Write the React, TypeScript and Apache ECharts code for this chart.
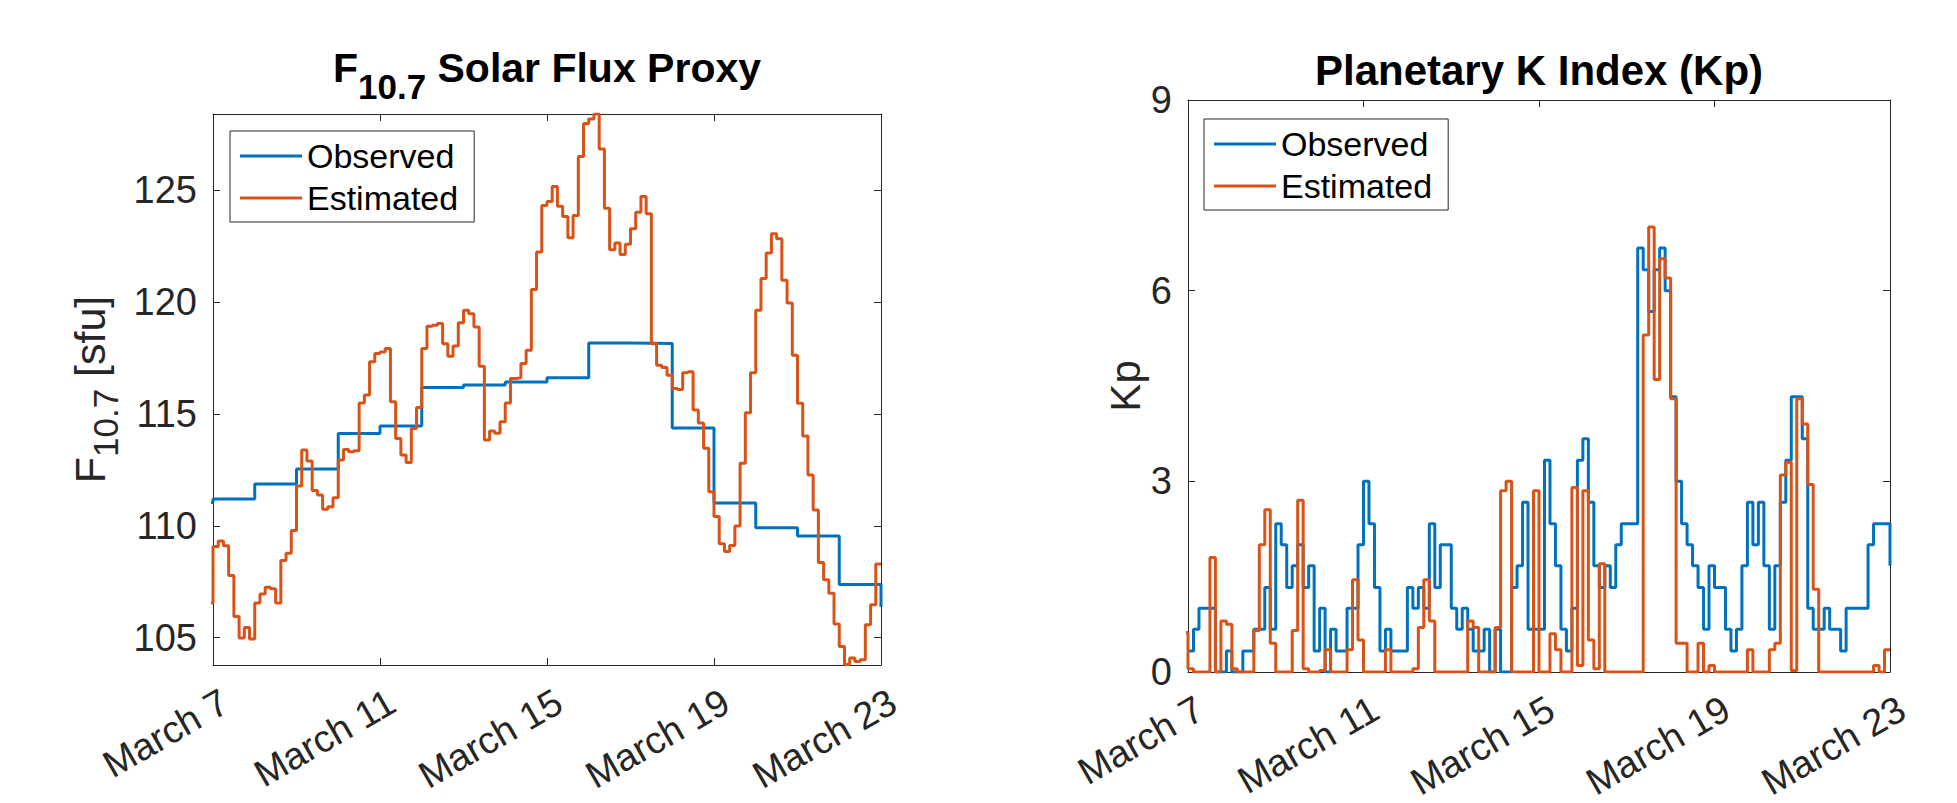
import React, { useEffect, useRef } from "react";
import * as echarts from "echarts";

// ---------------- data ----------------
const xTickLabels = ["March 7", "March 11", "March 15", "March 19", "March 23"];
const stepsPerDay = 8; // 3-hourly samples

// F10.7 observed, one value per day (March 7 .. March 22) + value at March 23
const f107ObservedPrev = 111.05;
const f107Observed = [
  111.2, 111.87, 112.55, 114.13, 114.47, 116.19, 116.3, 116.44,
  116.62, 118.18, 118.16, 114.38, 111.02, 109.92, 109.55, 107.38,
];
const f107ObservedEnd = 106.37;

// F10.7 estimated, 3-hourly
const f107EstimatedPrev = 106.55;
const f107Estimated = [
  109.08, 109.33, 109.11, 107.78, 105.95, 104.99, 105.46, 104.94,
  106.55, 106.95, 107.26, 107.19, 106.55, 108.45, 108.78, 109.79,
  111.79, 113.39, 112.9, 111.58, 111.38, 110.74, 110.86, 111.26,
  112.95, 113.42, 113.32, 113.36, 115.5, 115.85, 117.34, 117.71,
  117.78, 117.93, 115.55, 113.91, 113.17, 112.83, 114.36, 115.3,
  117.93, 118.93, 118.97, 119.05, 118.15, 117.59, 118.04, 119.08,
  119.64, 119.49, 118.9, 117.14, 113.84, 114.24, 114.14, 114.66,
  115.5, 116.59, 116.62, 117.26, 117.86, 120.57, 122.25, 124.33,
  124.51, 125.18, 124.29, 123.84, 122.89, 123.88, 126.52, 128.0,
  128.2, 128.42, 126.86, 124.21, 122.35, 122.65, 122.14, 122.59,
  123.29, 124.03, 124.73, 123.96, 118.15, 117.19, 117.08, 116.74,
  116.15, 116.1, 116.85, 116.89, 115.18, 114.6, 113.47, 111.53,
  110.42, 109.2, 108.85, 109.12, 110.0, 112.8, 115.06, 116.85,
  119.64, 121.06, 122.2, 123.07, 122.84, 120.98, 119.97, 117.63,
  115.48, 114.02, 112.28, 110.71, 108.36, 107.59, 106.99, 105.61,
  104.61, 103.8, 104.09, 103.94, 104.02, 105.58, 106.47, 108.3,
];
const f107EstimatedEnd = 108.3;

// Kp observed, 3-hourly
const kpObserved = [
  0.33, 0.67, 1, 1, 1, 0, 0, 0.33,
  0, 0, 0.33, 0.33, 0.67, 0.67, 1.33, 0.67,
  2.33, 2, 1.33, 1.67, 2, 1.33, 1.67, 0.33,
  1, 0, 0.67, 0.33, 0.33, 1, 1, 2,
  3, 2.33, 1.33, 0.33, 0.67, 0.33, 0.33, 0.33,
  1.33, 1, 1.33, 1, 2.33, 1.33, 2, 2,
  1, 0.67, 1, 0.67, 0.33, 0.33, 0.67, 0,
  0.67, 0, 0, 1.33, 1.67, 2.67, 0.67, 0.67,
  0.67, 3.33, 2.33, 1.67, 0.67, 0.33, 1, 3.33,
  3.67, 2.67, 1.67, 1.33, 1.67, 1.33, 2, 2.33,
  2.33, 2.33, 6.67, 6.33, 5.67, 6.33, 6.67, 6,
  4.33, 3, 2.33, 2, 1.67, 1.33, 0.67, 1.67,
  1.33, 1.33, 0.67, 0.33, 0.67, 1.67, 2.67, 2,
  2.67, 1.67, 0.67, 1.67, 2.67, 3.33, 4.33, 4.33,
  3.67, 1, 0.67, 0.67, 1, 0.67, 0.67, 0.33,
  1, 1, 1, 1, 2, 2.33, 2.33, 2.33,
];
const kpObservedEnd = 1.67;

// Kp estimated, 3-hourly
const kpEstimatedPrev = 0.62;
const kpEstimated = [
  0.05, 0, 0, 0, 1.8, 0, 0.8, 0.75,
  0.05, 0, 0, 0, 0.65, 2.0, 2.55, 0.45,
  0, 0, 0, 0.65, 2.7, 0.05, 0, 0,
  0.02, 0.35, 0, 0, 0, 0.35, 1.45, 0.5,
  0, 0, 0, 0, 0.35, 0, 0, 0,
  0, 0.05, 0.7, 1.45, 0.8, 0, 0, 0,
  0, 0, 0, 0.8, 0.7, 0, 0, 0,
  0.7, 2.85, 3.0, 0, 0, 0, 0, 2.85,
  0, 0, 0.6, 0.35, 0, 0, 2.9, 0.1,
  2.85, 0.5, 0.05, 1.7, 0, 0, 0, 0,
  0, 0, 0, 5.3, 7.0, 4.6, 6.5, 6.2,
  4.3, 0.45, 0.45, 0, 0, 0.45, 0, 0.1,
  0, 0, 0, 0, 0, 0, 0.35, 0,
  0, 0, 0.35, 0.45, 3.1, 3.3, 0.02, 4.3,
  3.9, 2.95, 1.3, 0, 0, 0, 0, 0,
  0, 0, 0, 0, 0, 0.1, 0, 0.35,
];
const kpEstimatedEnd = 0.35;

// ---------------- styling ----------------
const FONT = "'Liberation Sans', Arial, Helvetica, sans-serif";
const AXIS = "#262626";
const BLUE = "#0072BD";
const ORANGE = "#D95319";
const DAYS = 16;
const TICK_FONT = 38;

function stepSeries(prev: number | null, vals: number[], end: number, perDay: number) {
  const out: number[][] = [];
  if (prev !== null) out.push([-1 / perDay, prev]);
  vals.forEach((v, i) => out.push([i / perDay, v]));
  out.push([DAYS, end]);
  return out;
}

function xAxis(gridIndex: number, position: "top" | "bottom") {
  return {
    type: "value",
    gridIndex,
    position,
    min: 0,
    max: DAYS,
    interval: 4,
    axisLine: { show: true, onZero: false, lineStyle: { color: AXIS, width: 1 } },
    axisTick: { show: true, inside: true, length: 7, lineStyle: { color: AXIS, width: 1 } },
    splitLine: { show: false },
    axisLabel: {
      show: position === "bottom",
      rotate: 30,
      margin: 19,
      align: "right",
      verticalAlign: "top",
      fontSize: TICK_FONT,
      fontFamily: FONT,
      color: AXIS,
      formatter: (v: number) => "{t|" + (xTickLabels[Math.round(v / 4)] ?? "") + "}",
      rich: {
        t: { fontSize: TICK_FONT, fontFamily: FONT, color: AXIS, padding: [0, -3, 0, 0] },
      },
    },
  };
}

function yAxis(gridIndex: number, position: "left" | "right", hideEnds: boolean, extra: any) {
  return {
    type: "value",
    gridIndex,
    position,
    axisLine: { show: true, onZero: false, lineStyle: { color: AXIS, width: 1 } },
    axisTick: { show: true, inside: true, length: 7, lineStyle: { color: AXIS, width: 1 } },
    splitLine: { show: false },
    axisLabel: {
      show: position === "left",
      margin: 16,
      fontSize: TICK_FONT,
      fontFamily: FONT,
      color: AXIS,
      showMinLabel: !hideEnds,
      showMaxLabel: !hideEnds,
    },
    ...extra,
  };
}

const legendBase = {
  orient: "vertical",
  icon: "rect",
  itemWidth: 62,
  itemHeight: 3,
  itemGap: 4,
  padding: [6, 16, 5, 10],
  borderColor: AXIS,
  borderWidth: 1,
  backgroundColor: "#fff",
  textStyle: { fontSize: 34, fontFamily: FONT, color: "#000", lineHeight: 38 },
  data: ["Observed", "Estimated"],
};

export default function App() {
  const ref = useRef<HTMLDivElement>(null);
  useEffect(() => {
    if (!ref.current) return;
    const chart = echarts.init(ref.current, undefined, { renderer: "svg" });
    const line = (name: string, color: string, data: number[][], xi: number, yi: number, z: number) => ({
      type: "line",
      name,
      data,
      xAxisIndex: xi,
      yAxisIndex: yi,
      step: "end",
      symbol: "none",
      showSymbol: false,
      clip: true,
      z,
      lineStyle: { color, width: 3 },
      itemStyle: { color },
    });
    chart.setOption({
      animation: false,
      backgroundColor: "#fff",
      grid: [
        { left: 213, top: 114, width: 668, height: 551 },
        { left: 1188, top: 100, width: 702, height: 573 },
      ],
      xAxis: [xAxis(0, "bottom"), xAxis(0, "top"), xAxis(1, "bottom"), xAxis(1, "top")],
      yAxis: [
        yAxis(0, "left", true, {
          min: 103.78,
          max: 128.42,
          splitNumber: 5,
          name: "{n|F}{s|10.7}{n| [sfu]}",
          nameLocation: "middle",
          nameRotate: 90,
          nameGap: 100,
          nameTextStyle: {
            color: AXIS,
            rich: {
              n: { fontSize: 43, lineHeight: 46, fontFamily: FONT, color: AXIS },
              s: { fontSize: 35, lineHeight: 46, fontFamily: FONT, color: AXIS, padding: [30, 0, 0, 0] },
            },
          },
        }),
        yAxis(0, "right", true, { min: 103.78, max: 128.42, splitNumber: 5 }),
        yAxis(1, "left", false, {
          min: 0,
          max: 9,
          interval: 3,
          name: "Kp",
          nameLocation: "middle",
          nameRotate: 90,
          nameGap: 20,
          nameTextStyle: { fontSize: 42, fontFamily: FONT, color: AXIS },
        }),
        yAxis(1, "right", false, { min: 0, max: 9, interval: 3 }),
      ],
      legend: [
        { ...legendBase, left: 230, top: 131 },
        { ...legendBase, left: 1204, top: 119 },
      ],
      graphic: [
        {
          type: "text",
          x: 547,
          y: 68,
          style: {
            text: "{n|F}{s|10.7}{n| Solar Flux Proxy}",
            align: "center",
            verticalAlign: "middle",
            rich: {
              n: { fontSize: 41, lineHeight: 44, fontWeight: "bold", fontFamily: FONT, fill: "#000" },
              s: { fontSize: 35, lineHeight: 44, fontWeight: "bold", fontFamily: FONT, fill: "#000", padding: [36, 0, 0, 0] },
            },
          },
        },
        {
          type: "text",
          x: 1539,
          y: 70,
          style: {
            text: "Planetary K Index (Kp)",
            align: "center",
            verticalAlign: "middle",
            fontSize: 42,
            fontWeight: "bold",
            fontFamily: FONT,
            fill: "#000",
          },
        },
      ],
      series: [
        line("Observed", BLUE, stepSeries(f107ObservedPrev, f107Observed, f107ObservedEnd, 1), 0, 0, 2),
        line("Estimated", ORANGE, stepSeries(f107EstimatedPrev, f107Estimated, f107EstimatedEnd, stepsPerDay), 0, 0, 3),
        line("Observed", BLUE, stepSeries(null, kpObserved, kpObservedEnd, stepsPerDay), 2, 2, 2),
        line("Estimated", ORANGE, stepSeries(kpEstimatedPrev, kpEstimated, kpEstimatedEnd, stepsPerDay), 2, 2, 3),
      ],
    });
    return () => chart.dispose();
  }, []);
  return (
    <div
      ref={ref}
      style={{ position: "fixed", left: 0, top: 0, width: 1957, height: 803, background: "#fff" }}
    />
  );
}
